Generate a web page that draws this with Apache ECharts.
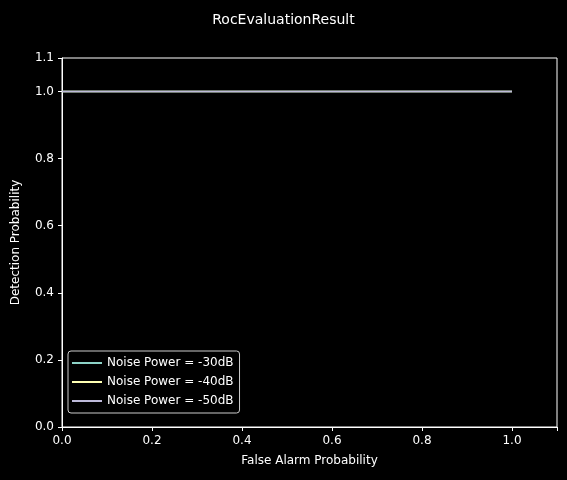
<!DOCTYPE html>
<html><head><meta charset="utf-8">
<script src="https://cdn.jsdelivr.net/npm/echarts@6/dist/echarts.min.js"></script>
<style>html,body{margin:0;background:#000}#c{width:567px;height:480px}</style></head>
<body><div id="c"></div>
<script>
const seriesNames = ['Noise Power = -30dB','Noise Power = -40dB','Noise Power = -50dB'];
const colors = ['#8dd3c7','#ffffb3','#bebada'];
const falseAlarm = [0, 0.25, 0.5, 0.75, 1.0];
const detection30 = [1, 1, 1, 1, 1];
const detection40 = [1, 1, 1, 1, 1];
const detection50 = [1, 1, 1, 1, 1];
const ticks = [0, 0.2, 0.4, 0.6, 0.8, 1.0];
const allDet = [detection30, detection40, detection50];
const chart = echarts.init(document.getElementById('c'));
const font = 'DejaVu Sans';
chart.setOption({
  backgroundColor:'#000',
  animation:false,
  title:{text:'RocEvaluationResult',left:'center',top:8,textStyle:{color:'#fff',fontSize:14,fontWeight:'normal',fontFamily:font}},
  grid:{left:62,right:10,top:58,bottom:53},
  legend:{orient:'vertical',left:68,top:351,data:seriesNames,itemWidth:30,itemHeight:2,itemGap:7,
    icon:'rect',
    textStyle:{color:'#fff',fontSize:12,fontFamily:font},
    backgroundColor:'#000',borderColor:'#ccc',borderWidth:1,borderRadius:3,padding:[6,6,6,4]},
  xAxis:{type:'value',min:0,max:1.1,interval:0.2,name:'False Alarm Probability',nameLocation:'middle',nameGap:28,
    nameTextStyle:{color:'#fff',fontSize:12,fontFamily:font},
    axisLine:{lineStyle:{color:'#fff'}},axisTick:{lineStyle:{color:'#fff'},length:4},splitLine:{show:false},
    axisLabel:{color:'#fff',fontFamily:font,fontSize:12,formatter:v=>ticks.includes(+v.toFixed(1))?v.toFixed(1):''}},
  yAxis:{type:'value',min:0,max:1.1,interval:0.2,name:'Detection Probability',nameLocation:'middle',nameGap:40,
    nameTextStyle:{color:'#fff',fontSize:12,fontFamily:font},
    axisLine:{show:true,lineStyle:{color:'#fff'}},axisTick:{show:true,lineStyle:{color:'#fff'},length:4},splitLine:{show:false},
    axisLabel:{color:'#fff',fontFamily:font,fontSize:12,formatter:v=>v.toFixed(1)}},
  graphic:[{type:'rect',shape:{x:62,y:58,width:495,height:369},style:{fill:'none',stroke:'#fff',lineWidth:1},silent:true}],
  series:seriesNames.map((n,i)=>({name:n,type:'line',symbol:'none',color:colors[i],lineStyle:{width:1.5,color:colors[i]},
    data:falseAlarm.map((x,j)=>[x,allDet[i][j]])}))
});
</script></body></html>
